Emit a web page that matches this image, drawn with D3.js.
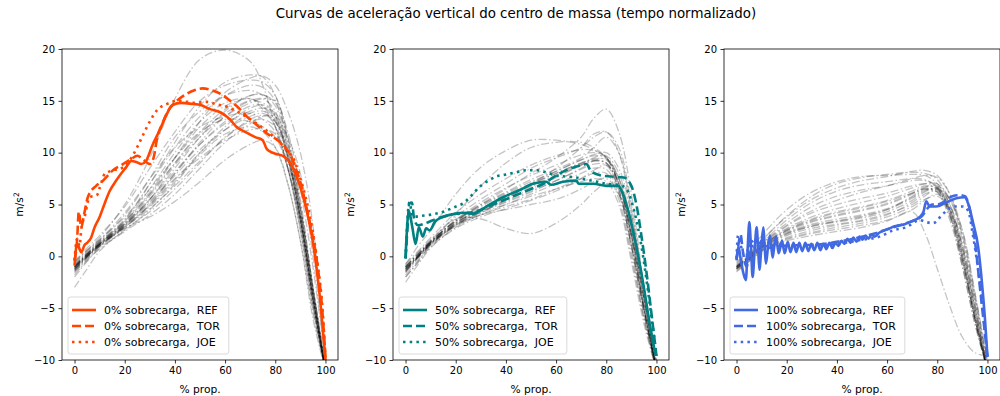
<!DOCTYPE html>
<html>
<head>
<meta charset="utf-8">
<script src="https://d3js.org/d3.v7.min.js"></script>
<style>
  body { margin: 0; background: #fff; }
  svg { font-family: "DejaVu Sans", sans-serif; display: block; }
</style>
<title>Aceleração vertical</title>
</head>
<body>
<div id="chart"></div>
<script>
// x positions (% of propulsion) where the individual trials are sampled
const grid = [0, 5, 10, 20, 30, 40, 50, 60, 70, 75, 80, 85, 90, 95, 100];

// individual trials, 0% overload
const gray0 = [
  [-0.5, 0.6, 1.8, 5, 9.5, 15.2, 19, 19.9, 18.8, 16.5, 12.5, 8.5, 3.5, -3.5, -11],
  [-1, 0.2, 1.3, 3.5, 7, 11, 14.5, 16.8, 17.5, 17.3, 15.5, 11.5, 5.5, -3, -11],
  [-1.2, 0, 1.2, 3.2, 6, 9.5, 13, 15.8, 17.2, 17.4, 16.5, 14, 10, 3, -10],
  [-0.8, 0.4, 1.5, 4, 7.5, 11.5, 14, 15.5, 16, 15.5, 13.5, 9.5, 3.5, -4, -11],
  [-1.5, -0.2, 1, 3, 5.5, 8.5, 11.5, 14, 15.5, 15.6, 14.5, 10.5, 4.5, -3.5, -11],
  [-1, 0.2, 1.2, 2.8, 5, 8, 11, 13.5, 15, 15.2, 14, 10, 4, -4, -11],
  [-2, -0.5, 0.8, 2.5, 4.5, 7, 10, 12.5, 14.3, 14.5, 13, 9.5, 3.5, -4.5, -11],
  [-0.6, 0.6, 1.6, 3.8, 6.5, 9.5, 12.5, 14.5, 15.2, 14.5, 12.5, 8.5, 2.5, -5, -11],
  [-1.3, 0, 1.1, 3, 5.2, 7.8, 10.3, 12.2, 13.5, 13.8, 13, 10, 4.5, -3, -10.5],
  [-3, -1.2, 0.5, 2.6, 4.3, 6.5, 9, 11.5, 13, 13.2, 12.5, 9.5, 4, -3.5, -11],
  [-1, 0.1, 1, 2.7, 3.8, 5.3, 7.2, 9.3, 10.8, 11.2, 10.5, 7, 1.5, -6, -11],
  [-1.1, 0.2, 1.3, 3.3, 6.2, 9.5, 12, 13.2, 13, 12.5, 11.5, 8.5, 3, -4.5, -11],
  [-0.7, 0.5, 1.6, 4.2, 7.5, 10.5, 12.5, 13.5, 13.8, 13.2, 12, 8.5, 3, -4.5, -11],
  [-1.4, -0.1, 1, 2.9, 5, 7.5, 9.5, 11.2, 12.2, 12.3, 11.8, 9, 3.5, -4, -11],
  [-1, 0.2, 1.2, 3.1, 5.8, 9, 12, 14.2, 15.5, 15.6, 14.8, 11, 5, -3, -10.5],
  [-0.9, 0.3, 1.4, 3.6, 7, 10.5, 13.5, 15.5, 16.5, 16.3, 15, 11, 4.5, -3.5, -11],
  [-1.6, -0.3, 0.9, 2.8, 4.8, 7.2, 9.8, 11.8, 12.5, 12, 10.5, 7, 1.5, -5.5, -11],
  [-1.2, 0.1, 1.1, 3, 5.5, 8.2, 10.8, 12.8, 14, 14.3, 13.8, 10.5, 4.5, -3, -10.5],
  [-0.5, 0.8, 2, 4.8, 8.5, 12, 15, 16.5, 17, 16.8, 15.5, 11.5, 5, -3, -11],
  [-1.8, -0.4, 0.7, 2.4, 4, 6, 8.5, 11, 12.8, 13.5, 13.5, 11.5, 8, 0, -10],
  [-1, 0, 1.2, 3.2, 5.5, 8.8, 11.5, 13.5, 14.8, 15.2, 15, 12, 6.5, -1, -10],
  [-1.3, 0, 1.2, 3.4, 6.5, 10, 13, 14.8, 15.2, 14.2, 12.5, 8.5, 2.5, -5, -11],
  [-1.1, 0.1, 1.2, 3.1, 5.3, 8, 10.8, 13, 14.5, 14.6, 13.5, 9.8, 3.8, -4, -11],
  [-1.2, 0, 1.1, 2.9, 4.9, 7.4, 10, 12.2, 13.8, 14, 13.2, 9.5, 3.5, -4.2, -11],
  [-0.9, 0.3, 1.4, 3.4, 6, 9, 11.8, 13.8, 15, 14.8, 13.6, 9.8, 3.8, -3.8, -11],
  [-1.4, -0.1, 1, 2.8, 4.6, 6.8, 9.2, 11.4, 13.2, 13.6, 13, 9.6, 3.8, -4, -11]
];

// individual trials, 50% overload
const gray50 = [
  [-1, 0.2, 1.4, 3.4, 5, 6.5, 8, 9.5, 11.5, 13.3, 14.2, 12, 6, -3, -11],
  [-0.8, 1, 2.5, 6, 8.6, 10.2, 11.2, 11.2, 10.8, 10.3, 9.5, 7, 2, -5, -11],
  [-1.5, 0, 1.5, 4, 6.8, 9, 10.5, 11, 11, 10.5, 9.5, 7, 2.5, -4, -11],
  [-2, -0.5, 1.2, 3.6, 3.6, 2.7, 2.2, 3.2, 5, 6.2, 7, 6, 2, -4, -11],
  [-1.2, 0, 1.3, 3, 4.2, 5.5, 7, 8.5, 10.5, 11.8, 12, 10, 4, -3, -10.5],
  [-1.3, 0, 1.2, 3.2, 4.5, 5.6, 6.7, 7.7, 8.8, 9.2, 9, 7, 2, -5, -11],
  [-1, 0.3, 1.5, 3.4, 4.8, 6, 7, 8, 9, 9.3, 9, 6.5, 1, -5.5, -11],
  [-1.6, -0.2, 1.1, 2.9, 4, 5, 6, 7, 8, 8.5, 8.4, 6, 0.5, -6, -11],
  [-2.5, -0.8, 0.8, 2.8, 4, 4.8, 5.5, 6.5, 7.5, 8, 8, 5.5, 0, -6, -11],
  [-1.1, 0.1, 1.4, 3.5, 5.2, 6.6, 7.8, 8.8, 9.8, 10, 9.6, 7.5, 2.5, -4, -11],
  [-1.4, -0.1, 1.2, 3.1, 4.3, 5.2, 6.2, 7.3, 8.5, 9.2, 9.4, 7.5, 3, -4, -10.5],
  [-0.9, 0.4, 1.6, 3.8, 5.5, 7, 8.5, 9.5, 10.5, 11.5, 12, 10.5, 5, -3, -10],
  [-1.8, -0.4, 1, 3, 4.2, 5, 5.8, 6.5, 7.2, 7.5, 7.2, 5, -0.5, -6.5, -11],
  [-1.2, 0, 1.3, 3.3, 4.6, 5.8, 7, 8.2, 9.3, 9.8, 10, 8.5, 4, -3, -10],
  [-1, 0.2, 1.4, 3.5, 5, 6.2, 7.4, 8.4, 9.5, 10.5, 11.5, 10, 4.5, -3.5, -11],
  [-1.5, -0.1, 1.1, 3, 4, 4.5, 5, 5.5, 6.5, 7.2, 7.5, 6, 1, -5, -11],
  [-1.3, 0, 1.2, 3.1, 4.4, 5.4, 6.5, 7.6, 8.8, 9.5, 9.7, 8, 3, -4, -11],
  [-0.7, 0.5, 1.8, 4.2, 6, 7.5, 8.8, 9.7, 10.3, 10.2, 9.5, 7.5, 2.5, -4.5, -11],
  [-2, -0.6, 0.9, 2.7, 3.8, 4.6, 5.4, 6.3, 7.5, 8.3, 8.8, 7, 2, -5, -11],
  [-1.1, 0.1, 1.3, 3.2, 4.5, 5.7, 6.9, 8, 9, 9.4, 9.3, 7, 1.5, -5, -11],
  [-1.2, 0, 1.3, 3.2, 4.6, 5.7, 6.8, 7.8, 8.9, 9.2, 9, 6.5, 1.2, -5.2, -11],
  [-1.4, -0.1, 1.2, 3, 4.3, 5.3, 6.3, 7.3, 8.4, 8.9, 8.8, 6.3, 1, -5.5, -11],
  [-1, 0.2, 1.4, 3.4, 4.9, 6.1, 7.2, 8.2, 9.3, 9.7, 9.5, 7, 2, -4.8, -11]
];

// individual trials, 100% overload
const gray100 = [
  [-0.5, 0.5, 2, 4.5, 6.2, 7.2, 7.7, 7.8, 7.9, 7.8, 7, 5, 1, -4.5, -11],
  [-1, 0, 1.5, 3.8, 5.5, 6.6, 7.3, 7.7, 8.2, 8.3, 7.8, 6, 2, -4, -10.5],
  [-1.2, -0.3, 0.6, 1.5, 2, 2.4, 2.8, 3.4, 4.3, 2.3, -1.2, -4.8, -7.8, -9.3, -9.6],
  [-1, -0.2, 0.8, 2.2, 3, 3.4, 3.8, 4.5, 5.8, 6.5, 6.2, 3.5, -1, -6.5, -11],
  [-1.3, -0.4, 0.6, 1.8, 2.5, 3, 3.4, 4, 5.2, 6, 6.3, 4, -0.5, -6, -11],
  [-0.8, 0, 1, 2.6, 3.6, 4.3, 4.8, 5.4, 6.3, 6.8, 6.5, 4, -0.5, -6, -11],
  [-1.5, -0.5, 0.5, 1.6, 2.2, 2.6, 3, 3.5, 4.5, 5.4, 6, 4.5, 0.5, -5, -11],
  [-1, 0, 1.2, 3.2, 4.8, 5.8, 6.4, 6.8, 7.3, 7.3, 6.8, 4.5, 0, -6, -11],
  [-0.7, 0.2, 1.3, 3.5, 5.2, 6.3, 6.9, 7.2, 7.5, 7.4, 6.6, 4, -0.5, -6, -11],
  [-1.2, -0.3, 0.7, 2, 2.7, 3.1, 3.5, 4.1, 5, 5.8, 6.5, 5.5, 2, -4, -10.5],
  [-1.1, -0.2, 0.9, 2.4, 3.3, 3.9, 4.4, 5, 6, 6.6, 6.8, 5.5, 2.5, -3.5, -10],
  [-0.9, 0, 1.1, 2.9, 4.2, 5, 5.6, 6.1, 6.8, 7, 6.7, 4.5, 0, -5.5, -11],
  [-1.4, -0.5, 0.5, 1.7, 2.3, 2.8, 3.2, 3.8, 4.8, 5.5, 5.8, 4.5, 1, -5, -11],
  [-1, -0.1, 1, 2.7, 3.8, 4.6, 5.2, 5.8, 6.6, 7, 7, 5.5, 1.5, -4.5, -11],
  [-0.6, 0.3, 1.5, 3.9, 5.8, 7, 7.6, 7.9, 8.1, 8, 7.4, 5, 0.5, -5.5, -11],
  [-1.2, -0.3, 0.8, 2.1, 2.9, 3.3, 3.7, 4.3, 5.4, 6.2, 6.6, 5, 1, -5, -11],
  [-1.1, -0.2, 0.9, 2.5, 3.5, 4.2, 4.7, 5.3, 6.1, 6.5, 6.2, 3.8, -1, -6.5, -11],
  [-0.9, 0.1, 1.2, 3, 4.4, 5.4, 6.2, 6.8, 7.5, 7.8, 7.6, 6, 2.5, -3.5, -10.5],
  [-1.1, -0.2, 0.9, 2.3, 3.1, 3.6, 4, 4.6, 5.7, 6.4, 6.4, 4.2, 0, -6, -11],
  [-1, -0.1, 1, 2.5, 3.4, 4, 4.5, 5.1, 6.1, 6.7, 6.6, 4.3, -0.2, -6, -11],
  [-1.2, -0.3, 0.8, 2.2, 2.9, 3.4, 3.9, 4.5, 5.6, 6.3, 6.5, 4.6, 0.5, -5.5, -11]
];

// highlighted subjects: [% prop., m/s²]
const ref0 = [[0,-0.9],[1,1.2],[2.7,0.4],[4,1.1],[5,1.3],[6.6,1.8],[8,2.8],[10,3.8],[12,5.1],[14,6.3],[16,7.1],[18,7.8],[20.6,8.6],[22.6,9.2],[24.6,9.1],[26.6,8.9],[28.5,9.2],[31,10.7],[34,12.2],[36.5,13.6],[39,14.6],[42.5,14.8],[47,14.7],[50.2,14.6],[54,14.2],[58,13.9],[62,13.2],[64.5,12.5],[68,12.0],[72,11.5],[75,11.2],[76.5,10.4],[78,10.1],[80,9.9],[83,9.7],[85,9.3],[88,8.0],[91.5,5.4],[94.9,1.5],[97.5,-3.3],[100,-10]];
const tor0 = [[0,-0.4],[1,1.5],[1.7,4.3],[2.7,2.8],[3.6,3.8],[5.3,5.7],[8.6,6.8],[11.3,7.3],[15.3,8.3],[19.3,8.9],[22.6,9.4],[25,9.7],[27.5,9.3],[30,8.9],[31.5,9.5],[33,11.5],[35,12.8],[37,13.9],[39.5,14.7],[43.5,15.5],[47.5,16.0],[51,16.2],[55,16.0],[58,15.7],[62,15.0],[65.5,14.3],[69,13.4],[73,12.6],[77,11.8],[81,11.2],[84,10.5],[86.2,9.7],[88,8.6],[90.2,7.0],[92,5.2],[94.2,2.8],[96.9,-1.0],[98.5,-4.5],[100,-9.7]];
const joe0 = [[0,-0.4],[1,1.7],[2,1.0],[2.7,2.7],[4,3.8],[6,5.7],[8.9,5.9],[10,6.6],[12.2,8.0],[15.5,8.3],[19.5,8.6],[22.9,9.6],[24.9,10.5],[27.5,11.8],[30.2,13.1],[32.9,14.1],[36.9,14.7],[40.9,15.0],[44.9,14.9],[48,14.8],[52.9,14.9],[56,14.7],[60.9,14.4],[64.5,14.0],[68.9,13.4],[72,12.9],[75.5,12.3],[79,11.6],[82.2,10.9],[85,10.1],[87.5,9.3],[90,7.5],[92,5.8],[94.5,3.0],[97,-1.0],[98.8,-5],[100,-9.8]];

const ref50 = [[0,-0.2],[1.3,4.4],[2.7,2.8],[4,1.2],[5.3,2.8],[6.9,1.9],[8.2,2.7],[9.6,2.5],[11.6,3.3],[14.9,3.8],[17.6,4.0],[22.9,4.2],[26.9,4.1],[32.2,4.8],[38.8,5.7],[45.5,6.4],[50.8,7.0],[56.1,7.2],[58,6.9],[62.8,7.2],[68.1,7.3],[69,7.0],[74.7,7.0],[80.1,6.8],[84.7,6.8],[86.7,6.0],[89.4,3.8],[92,0.9],[94.7,-2.6],[97.3,-6.5],[99.7,-9.6]];
const tor50 = [[0,-0.2],[1,3.5],[1.5,5.1],[2.5,5.2],[3.5,3.5],[5,3.0],[8,3.2],[12,3.6],[16,3.9],[20,4.1],[25,4.2],[30,4.5],[35,5.0],[40,5.5],[45,6.0],[50,6.5],[55,7.0],[60,7.8],[65,8.4],[70,8.8],[72,8.9],[74,8.2],[78,7.8],[82,7.7],[87,7.6],[90,6.8],[92,5.0],[94,2.0],[96,-1.5],[98,-5.5],[100,-9.6]];
const joe50 = [[0,-0.2],[1.5,5.2],[3,3.8],[6,3.9],[9.6,4.0],[15,4.3],[20,4.8],[22.9,5.1],[26,5.8],[29.5,6.7],[33,7.3],[36.2,7.7],[40,7.9],[44.1,8.1],[48,8.3],[52.1,8.3],[56,8.1],[60.1,7.8],[64,7.7],[68.1,7.6],[72,7.4],[76.1,7.2],[80,7.0],[85,6.9],[88,6.5],[91,4.5],[94,1.0],[97,-4.0],[100,-9.6]];

const ref100 = [[0,-0.4],[0.8,0.9],[1.6,-0.2],[2.6,-1.5],[3.7,-2.3],[4.4,0.6],[5.1,3.3],[5.8,0.6],[6.4,-2.0],[7.2,0.5],[8.0,2.8],[8.6,0.8],[9.1,-1.3],[9.9,0.9],[10.7,2.8],[11.2,1.0],[11.7,-0.7],[12.5,0.8],[13.3,2.0],[13.9,0.8],[14.4,-0.1],[15.0,0.9],[15.7,1.9],[16.3,1.0],[16.8,0.3],[17.5,0.9],[18.1,1.5],[18.7,0.8],[19.2,0.3],[20.4,1.4],[21.5,0.4],[22.7,1.3],[23.8,0.4],[25,1.3],[26.2,0.5],[27.4,1.3],[28.6,0.5],[29.8,1.2],[31,0.6],[32.2,1.3],[33.4,0.6],[34.6,1.2],[35.8,0.7],[37,1.3],[38.2,0.8],[39.4,1.3],[40.6,1.0],[41.8,1.5],[43,1.2],[44.2,1.7],[45.4,1.3],[46.6,1.8],[47.8,1.4],[49,1.9],[50.2,1.6],[51.4,2.0],[52.6,1.7],[53.8,2.1],[55,1.9],[57,2.3],[59,2.5],[61,2.7],[63,2.9],[65,3.0],[67,3.1],[69,3.3],[71,3.5],[73,3.8],[74.5,4.3],[75.6,5.3],[77,4.8],[79.6,4.8],[83.6,5.2],[87.6,5.6],[90.9,5.7],[92.3,5.1],[94.3,3.2],[96.3,0.9],[97.6,-2.0],[99,-6],[100,-9.7]];
const tor100 = [[0,-0.3],[1,1.5],[1.6,2.1],[2.5,0.5],[4,-1.0],[6,1.5],[8,0.5],[10,1.5],[13,0.8],[16,1.2],[20,1.0],[25,1.1],[30,1.1],[35,1.2],[40,1.4],[45,1.6],[50,1.9],[55,2.2],[60,2.6],[65,3.0],[70,3.4],[74,3.9],[76,4.6],[78,5.0],[80,5.0],[83,5.3],[86,5.8],[89,5.9],[91,5.8],[93,4.5],[95,1.5],[97,-3],[100,-9.7]];
const joe100 = [[0,-0.2],[0.6,2.0],[1.5,1.2],[3,0.2],[6,1.0],[10,1.0],[15,1.0],[20,1.0],[30,1.0],[40,1.2],[50,1.6],[57,1.9],[62.3,2.5],[67.6,2.8],[73,3.5],[75.6,3.3],[78.3,3.2],[82.3,4.1],[86.3,4.8],[90.3,4.8],[92.3,4.4],[94.3,1.9],[97,-2.6],[100,-9.7]];

const loads = [0, 50, 100];
const colors = ["#ff4500", "#008080", "#4169e1"];
const subjects = ["REF", "TOR", "JOE"];
const xTicks = [0, 20, 40, 60, 80, 100];
const yTicks = [-10, -5, 0, 5, 10, 15, 20];

const panels = [
  { load: loads[0], color: colors[0], gray: gray0, series: [ref0, tor0, joe0] },
  { load: loads[1], color: colors[1], gray: gray50, series: [ref50, tor50, joe50] },
  { load: loads[2], color: colors[2], gray: gray100, series: [ref100, tor100, joe100] }
];

const width = 1000, height = 396;
const lefts = [62, 393, 724];
const plotW = 276, plotTop = 49, plotBottom = 360;
const dashes = [null, "9,4", "2.5,4.2"];

const svg = d3.select("#chart").append("svg")
  .attr("width", width).attr("height", height);

svg.append("text")
  .attr("x", 516).attr("y", 18)
  .attr("text-anchor", "middle")
  .style("font-size", "13.4px")
  .text("Curvas de aceleração vertical do centro de massa (tempo normalizado)");

panels.forEach(function (p, i) {
  const x0 = lefts[i];
  const xScale = d3.scaleLinear().domain([-5, 105]).range([x0, x0 + plotW]);
  const yScale = d3.scaleLinear().domain([-10, 20]).range([plotBottom, plotTop]);

  const g = svg.append("g");

  g.append("clipPath").attr("id", "clip" + i)
    .append("rect")
    .attr("x", x0).attr("y", plotTop)
    .attr("width", plotW).attr("height", plotBottom - plotTop);

  const plot = g.append("g").attr("clip-path", "url(#clip" + i + ")");

  // individual trials as faint dash-dot lines
  const grayLine = d3.line()
    .x(function (d, j) { return xScale(grid[j]); })
    .y(function (d) { return yScale(d); })
    .curve(d3.curveCatmullRom.alpha(0.5));

  plot.selectAll(".trial")
    .data(p.gray)
    .enter()
    .append("path")
    .attr("class", "trial")
    .attr("d", grayLine)
    .attr("fill", "none")
    .attr("stroke", "#000")
    .attr("stroke-opacity", 0.23)
    .attr("stroke-width", 1.3)
    .attr("stroke-dasharray", "8,2.5,1.5,2.5");

  // highlighted subjects
  const line = d3.line()
    .x(function (d) { return xScale(d[0]); })
    .y(function (d) { return yScale(d[1]); })
    .curve(d3.curveMonotoneX);

  p.series.forEach(function (s, k) {
    plot.append("path")
      .datum(s)
      .attr("d", line)
      .attr("fill", "none")
      .attr("stroke", p.color)
      .attr("stroke-width", 2.6)
      .attr("stroke-dasharray", dashes[k]);
  });

  // axes
  const xAxis = g.append("g")
    .attr("transform", "translate(0," + plotBottom + ")")
    .call(d3.axisBottom(xScale).tickValues(xTicks).tickSize(3.5).tickPadding(3.5));
  const yAxis = g.append("g")
    .attr("transform", "translate(" + x0 + ",0)")
    .call(d3.axisLeft(yScale).tickValues(yTicks).tickSize(3.5).tickPadding(3.5));

  [xAxis, yAxis].forEach(function (ax) {
    ax.select(".domain").remove();
    ax.selectAll("line").attr("stroke", "#000").attr("stroke-width", 0.8);
    ax.selectAll("text")
      .attr("fill", "#000")
      .style("font-family", "DejaVu Sans")
      .style("font-size", "10px");
  });

  g.append("rect")
    .attr("x", x0).attr("y", plotTop)
    .attr("width", plotW).attr("height", plotBottom - plotTop)
    .attr("fill", "none")
    .attr("stroke", "#000")
    .attr("stroke-width", 0.8);

  g.append("text")
    .attr("x", x0 + plotW / 2).attr("y", 393)
    .attr("text-anchor", "middle")
    .style("font-size", "10.7px")
    .text("% prop.");

  const yLabel = g.append("text")
    .attr("transform", "translate(" + (x0 - 39) + "," + ((plotTop + plotBottom) / 2) + ") rotate(-90)")
    .attr("text-anchor", "middle")
    .style("font-size", "10.7px");
  yLabel.append("tspan").text("m/s");
  yLabel.append("tspan").attr("dy", -4).style("font-size", "7.5px").text("2");

  // legend
  const lx = x0 + 6, ly = 297;
  const legend = g.append("g");
  const box = legend.append("rect")
    .attr("x", lx).attr("y", ly)
    .attr("height", 57)
    .attr("rx", 2.5)
    .attr("fill", "#fff")
    .attr("fill-opacity", 0.8)
    .attr("stroke", "#d0d0d0")
    .attr("stroke-width", 0.8);

  let maxW = 0;
  subjects.forEach(function (name, k) {
    const cy = ly + 13 + k * 16;
    legend.append("line")
      .attr("x1", lx + 4).attr("x2", lx + 28)
      .attr("y1", cy).attr("y2", cy)
      .attr("stroke", p.color)
      .attr("stroke-width", 2.6)
      .attr("stroke-dasharray", dashes[k]);
    const t = legend.append("text")
      .attr("x", lx + 36).attr("y", cy + 4)
      .style("font-size", "11px")
      .style("white-space", "pre")
      .text(p.load + "% sobrecarga,  " + name);
    maxW = Math.max(maxW, t.node().getComputedTextLength());
  });
  box.attr("width", 36 + maxW + 9);
});
</script>
</body>
</html>
